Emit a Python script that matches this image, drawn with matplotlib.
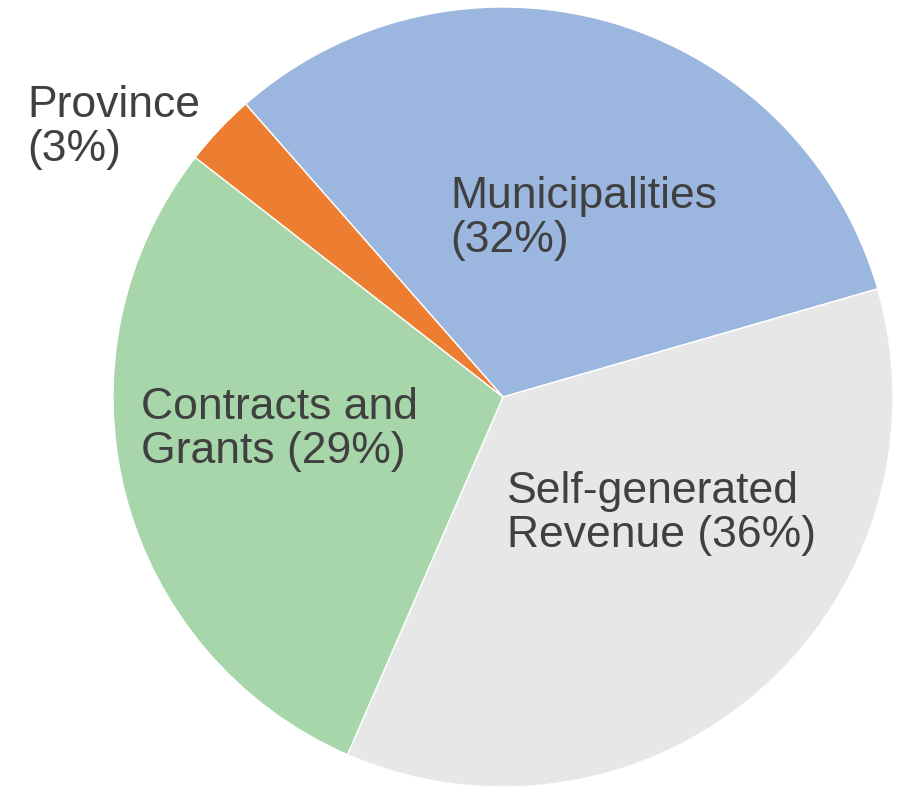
import matplotlib
matplotlib.use("Agg")
import matplotlib.pyplot as plt

categories = ["Municipalities", "Self-generated Revenue", "Contracts and Grants", "Province"]
values = [32, 36, 29, 3]
colors = ["#9BB7E0", "#E7E7E8", "#A6D6A9", "#ED7D31"]
label_lines = [
    ["Municipalities", "(32%)"],
    ["Self-generated", "Revenue (36%)"],
    ["Contracts and", "Grants (29%)"],
    ["Province", "(3%)"],
]
# label anchor (left x px, first baseline y px)
label_pos = [(450, 208), (507, 503), (141, 419), (27, 117)]

W, H = 902, 787
fig = plt.figure(figsize=(W / 100, H / 100), dpi=100)
cx, cy, r = 503, 397, 390
ax = fig.add_axes([(cx - r) / W, (H - cy - r) / H, 2 * r / W, 2 * r / H])
ax.pie(values, colors=colors, startangle=131.3, counterclock=False,
       wedgeprops=dict(edgecolor="white", linewidth=1.0), radius=1.0)
ax.set_xlim(-1, 1)
ax.set_ylim(-1, 1)
ax.set_aspect("equal")
ax.axis("off")

line_gap = 44
for lines, (x, y) in zip(label_lines, label_pos):
    for i, t in enumerate(lines):
        fig.text(x / W, 1 - (y + i * line_gap) / H, t, ha="left", va="baseline",
                 fontsize=32, family="Liberation Sans", color="#404040")

fig.savefig("out.png", dpi=100, facecolor="white")
